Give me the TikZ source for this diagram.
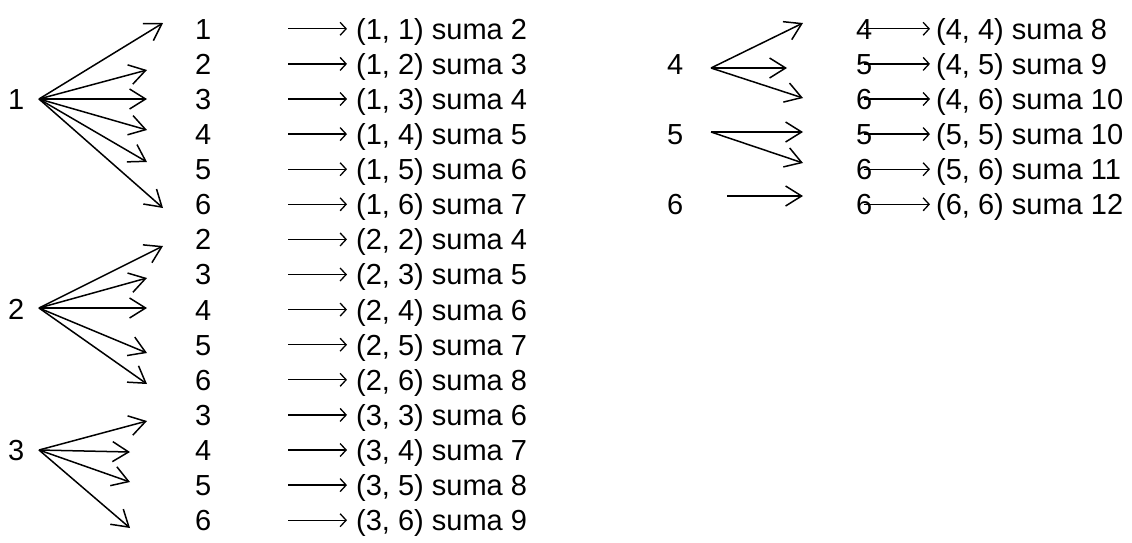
\documentclass[tikz,border=0pt]{standalone}
\usepackage{fontspec}
\setmainfont{Liberation Sans}
\usetikzlibrary{arrows.meta}
\begin{document}
\begin{tikzpicture}[x=1pt,y=-1pt,
  lab/.style={anchor=base west, inner sep=0pt, font=\fontsize{29}{35}\selectfont},
  treearrow/.style={line width=1.5pt, -{Straight Barb[length=16pt,width=20pt]}},
  textarrow/.style={line width=1.3pt, -{Straight Barb[length=6pt,width=13pt]}}]
\useasboundingbox (0,0) rectangle (1132,542);
% ---------- left column ----------
\foreach \i/\a/\b in {1/1/1,2/1/2,3/1/3,4/1/4,5/1/5,6/1/6,
                      7/2/2,8/2/3,9/2/4,10/2/5,11/2/6,
                      12/3/3,13/3/4,14/3/5,15/3/6}{
  \pgfmathsetmacro\y{28.8+(\i-1)*35.1}
  \pgfmathtruncatemacro\s{\a+\b}
  \node[lab] (c\i) at (195,\y+10.4) {\b};
  \coordinate (p\i) at (288,\y);
  \coordinate (q\i) at (347,\y);
  \node[lab] (t\i) at (356,\y+10.4) {(\a, \b) suma \s};
  \draw[textarrow] (p\i) -- (q\i);
}
% ---------- right column ----------
\foreach \i/\a/\b in {1/4/4,2/4/5,3/4/6,4/5/5,5/5/6,6/6/6}{
  \pgfmathsetmacro\y{28.8+(\i-1)*35.1}
  \pgfmathtruncatemacro\s{\a+\b}
  \node[lab] (d\i) at (856,\y+10.4) {\b};
  \coordinate (v\i) at (864,\y);
  \coordinate (w\i) at (930,\y);
  \node[lab] (u\i) at (936,\y+10.4) {(\a, \b) suma \s};
  \draw[textarrow] (v\i) -- (w\i);
}
% ---------- roots ----------
\node[lab] (r1) at (8,109.4) {1};
\node[lab] (r2) at (8,319.5) {2};
\node[lab] (r3) at (8,460.4) {3};
\node[lab] (r4) at (667,74.3) {4};
\node[lab] (r5) at (667,144.5) {5};
\node[lab] (r6) at (667,214.7) {6};
% ---------- tree arrows ----------
\coordinate (o1) at (39,99);
\foreach \n/\ex/\ey in {a/163/23,b/147/70,c/147/99,d/147/130,e/147/162,f/163/208}{
  \coordinate (e1\n) at (\ex,\ey);
  \draw[treearrow] (o1) -- (e1\n);
}
\coordinate (o2) at (39,308);
\foreach \n/\ex/\ey in {a/163/246,b/147/278,c/147/308,d/147/353,e/147/384}{
  \coordinate (e2\n) at (\ex,\ey);
  \draw[treearrow] (o2) -- (e2\n);
}
\coordinate (o3) at (39,450);
\foreach \n/\ex/\ey in {a/147/421,b/130/452,c/130/482,d/130/528}{
  \coordinate (e3\n) at (\ex,\ey);
  \draw[treearrow] (o3) -- (e3\n);
}
\coordinate (o4) at (711,68);
\foreach \n/\ex/\ey in {a/803/23,b/787/68,c/803/98}{
  \coordinate (e4\n) at (\ex,\ey);
  \draw[treearrow] (o4) -- (e4\n);
}
\coordinate (o5) at (711,132);
\foreach \n/\ex/\ey in {a/803/132,b/803/163}{
  \coordinate (e5\n) at (\ex,\ey);
  \draw[treearrow] (o5) -- (e5\n);
}
\coordinate (o6) at (727,196);
\coordinate (e6a) at (803,196);
\draw[treearrow] (o6) -- (e6a);
\end{tikzpicture}
\end{document}
